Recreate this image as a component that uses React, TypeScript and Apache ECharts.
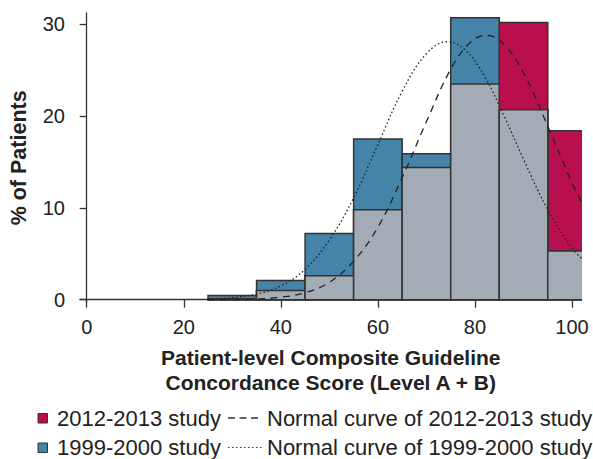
import React, { useEffect, useRef } from "react";
import * as echarts from "echarts";

// Histogram bins (score %)
const binStart = [25, 35, 45, 55, 65, 75, 85, 95];
const binEnd = [35, 45, 55, 65, 75, 85, 95, 105];
// % of patients per bin
const pct2012 = [0.1, 1.0, 2.6, 9.8, 14.4, 23.5, 30.2, 18.4];
const pct1999 = [0.45, 2.1, 7.2, 17.5, 15.9, 30.7, 20.7, 5.3];

// Normal curves
const curve2012X = [25, 30, 35, 40, 45, 50, 55, 60, 65, 70, 75, 79, 82.3, 86, 90, 95, 100, 102];
const curve2012Y = [0.01, 0.02, 0.08, 0.27, 0.76, 1.9, 4.2, 7.9, 13.3, 19.4, 25.1, 28.0, 28.8, 27.8, 24.7, 18.9, 12.7, 10.6];
const curve1999X = [25, 30, 35, 40, 45, 50, 55, 60, 65, 70, 74.3, 78, 82, 86, 90, 95, 100, 102];
const curve1999Y = [0.07, 0.22, 0.6, 1.5, 3.3, 6.5, 11.1, 16.9, 22.7, 26.8, 28.1, 27.2, 24.3, 20.0, 15.3, 9.8, 5.6, 4.5];

const xTicks = [0, 20, 40, 60, 80, 100];
const yTicks = [0, 10, 20, 30];

const CRIMSON = "#B90F4F";
const BLUE = "#4583A9";
const GREY = "#A3ACB4";
const EDGE = "#333333";
const TEXT = "#222222";
const FONT = "'Liberation Sans', Arial, Helvetica, sans-serif";

function barSeries(name: string, values: number[], color: string, z: number) {
  return {
    name,
    type: "custom",
    clip: true,
    z,
    data: binStart.map((s, i) => [s, binEnd[i], values[i]]),
    renderItem: (params: any, api: any) => {
      const p0 = api.coord([api.value(0), 0]);
      const p1 = api.coord([api.value(1), api.value(2)]);
      return {
        type: "rect",
        shape: { x: p0[0], y: p1[1], width: p1[0] - p0[0], height: p0[1] - p1[1] },
        style: { fill: color, stroke: EDGE, lineWidth: 1.5 },
      };
    },
  };
}

export default function App() {
  const ref = useRef<HTMLDivElement>(null);
  useEffect(() => {
    document.body.style.margin = "0";
    const chart = echarts.init(ref.current!, null, { renderer: "svg" });
    const overlap = pct2012.map((v, i) => Math.min(v, pct1999[i]));
    const legendFont = `22px ${FONT}`;
    chart.setOption({
      animation: false,
      backgroundColor: "#ffffff",
      textStyle: { fontFamily: FONT },
      grid: { left: 78, right: 11.5, top: 13, bottom: 156.3, containLabel: false },
      xAxis: {
        type: "value",
        min: -1.38,
        max: 101.95,
        splitLine: { show: false },
        axisLine: { show: true, lineStyle: { color: EDGE, width: 1.3 } },
        axisTick: { show: true, customValues: xTicks, length: 8, lineStyle: { color: EDGE, width: 1.3 } },
        axisLabel: { customValues: xTicks, color: TEXT, fontSize: 20, margin: 14, fontFamily: FONT },
        name: "Patient-level Composite Guideline\nConcordance Score (Level A + B)",
        nameLocation: "middle",
        nameGap: 42,
        nameTextStyle: { color: TEXT, fontSize: 21, fontWeight: "bold", lineHeight: 25, fontFamily: FONT },
      },
      yAxis: {
        type: "value",
        min: -0.33,
        max: 31.23,
        splitLine: { show: false },
        axisLine: { show: true, lineStyle: { color: EDGE, width: 1.3 } },
        axisTick: { show: true, customValues: yTicks, length: 7, lineStyle: { color: EDGE, width: 1.3 } },
        axisLabel: { customValues: yTicks, color: TEXT, fontSize: 20, margin: 15, fontFamily: FONT },
        name: "% of Patients",
        nameLocation: "middle",
        nameGap: 50,
        nameTextStyle: { color: TEXT, fontSize: 21.5, fontWeight: "bold", fontFamily: FONT },
      },
      series: [
        barSeries("2012-2013 study", pct2012, CRIMSON, 1),
        barSeries("1999-2000 study", pct1999, BLUE, 2),
        barSeries("Overlap", overlap, GREY, 3),
        {
          name: "Normal curve of 2012-2013 study",
          type: "line",
          z: 5,
          smooth: 0.4,
          showSymbol: false,
          clip: true,
          data: curve2012X.map((x, i) => [x, curve2012Y[i]]),
          lineStyle: { color: "#222", width: 1.3, type: [7, 5.5] },
        },
        {
          name: "Normal curve of 1999-2000 study",
          type: "line",
          z: 5,
          smooth: 0.4,
          showSymbol: false,
          clip: true,
          data: curve1999X.map((x, i) => [x, curve1999Y[i]]),
          lineStyle: { color: "#222", width: 1.3, type: [1.5, 2.5] },
        },
      ],
      graphic: [
        { type: "rect", shape: { x: 38, y: 413.5, width: 9.5, height: 9.5 }, style: { fill: CRIMSON, stroke: EDGE, lineWidth: 1 } },
        { type: "text", x: 57, y: 418, style: { text: "2012-2013 study", fill: TEXT, font: legendFont, verticalAlign: "middle" } },
        { type: "line", shape: { x1: 228, y1: 418, x2: 258, y2: 418 }, style: { stroke: "#333", lineWidth: 1.3, lineDash: [7, 4.5] } },
        { type: "text", x: 267, y: 418, style: { text: "Normal curve of 2012-2013 study", fill: TEXT, font: legendFont, verticalAlign: "middle" } },
        { type: "rect", shape: { x: 38, y: 443, width: 9.5, height: 9.5 }, style: { fill: BLUE, stroke: EDGE, lineWidth: 1 } },
        { type: "text", x: 57, y: 447.5, style: { text: "1999-2000 study", fill: TEXT, font: legendFont, verticalAlign: "middle" } },
        { type: "line", shape: { x1: 228, y1: 447.5, x2: 262, y2: 447.5 }, style: { stroke: "#333", lineWidth: 1.2, lineDash: [1.5, 2.5] } },
        { type: "text", x: 267, y: 447.5, style: { text: "Normal curve of 1999-2000 study", fill: TEXT, font: legendFont, verticalAlign: "middle" } },
      ],
    });
    return () => chart.dispose();
  }, []);
  return <div ref={ref} style={{ width: 593, height: 459 }} />;
}
